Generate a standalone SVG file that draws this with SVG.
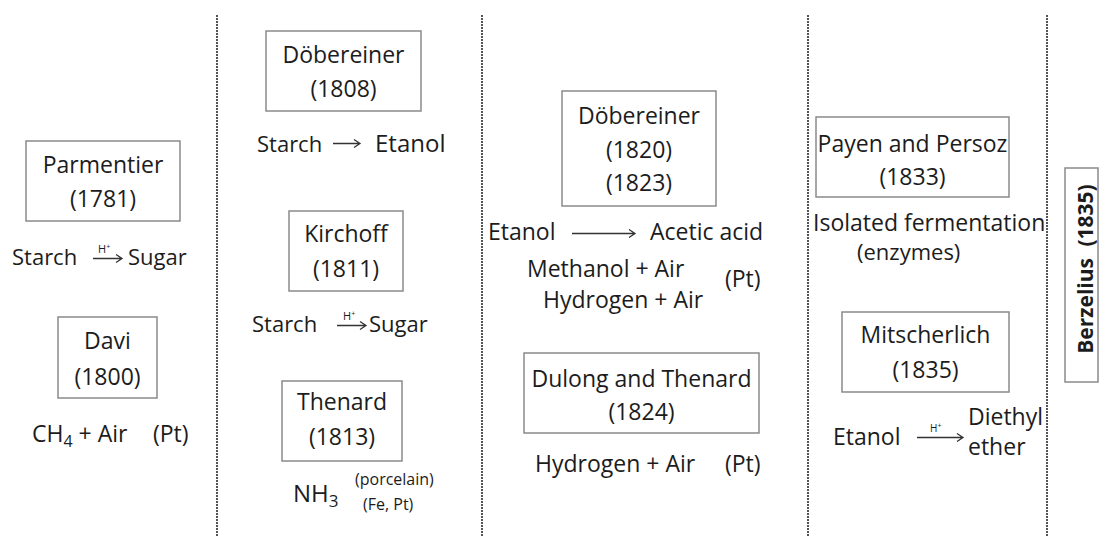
<svg xmlns="http://www.w3.org/2000/svg" width="1100" height="536" viewBox="0 0 1100 536">
<style>
text{font-family:"Open Sans","Noto Sans","Liberation Sans",sans-serif;fill:#1c1c1c}
.b{font-size:23px;text-anchor:middle}
.r{font-size:23px}
.s{font-size:16px}
.h{font-size:11px}
.box{fill:#fff;stroke:#8a8a8a;stroke-width:1.5}
.sep{stroke:#555;stroke-width:2;stroke-dasharray:2 1;fill:none}
.arr{stroke:#333;stroke-width:1.3;fill:none}
</style>
<rect width="1100" height="536" fill="#fff"/>
<g id="separators">
<line class="sep" x1="217" y1="15" x2="217" y2="536"/>
<line class="sep" x1="482" y1="15" x2="482" y2="536"/>
<line class="sep" x1="808" y1="15" x2="808" y2="536"/>
<line class="sep" x1="1047" y1="15" x2="1047" y2="536"/>
</g>
<g id="connectors">
<path class="arr" d="M93 258.5H122M116 254.5L122 258.5L116 262.5"/>
<path class="arr" d="M333 143.5H360M354 139.5L360 143.5L354 147.5"/>
<path class="arr" d="M337 325.5H366M360 321.5L366 325.5L360 329.5"/>
<path class="arr" d="M572 233.5H635M629 229.5L635 233.5L629 237.5"/>
<path class="arr" d="M917 437.5H963M957 433.5L963 437.5L957 441.5"/>
</g>
<g id="parmentier">
<rect class="box" x="26" y="141" width="154" height="80"/>
<text class="b" x="103" y="173">Parmentier</text>
<text class="b" x="103" y="207">(1781)</text>
<text class="r" x="12" y="265" style="font-size:22px">Starch</text>
<text class="h" x="98" y="253">H<tspan font-size="7" dy="-4">+</tspan></text>
<text class="r" x="128" y="265" style="font-size:22px">Sugar</text>
</g>
<g id="davi">
<rect class="box" x="58" y="317" width="99" height="81"/>
<text class="b" x="107.5" y="349">Davi</text>
<text class="b" x="107.5" y="385">(1800)</text>
<text class="r" x="32" y="442">CH<tspan font-size="16" dy="5">4</tspan><tspan dy="-5"> + Air</tspan></text>
<text class="r" x="153" y="442">(Pt)</text>
</g>
<g id="dobereiner1808">
<rect class="box" x="266" y="31" width="155" height="80"/>
<text class="b" x="343.5" y="63">Döbereiner</text>
<text class="b" x="343.5" y="97">(1808)</text>
<text class="r" x="257" y="152" style="font-size:22px">Starch</text>
<text class="r" x="375" y="152" style="font-size:24px">Etanol</text>
</g>
<g id="kirchoff">
<rect class="box" x="289" y="211" width="114" height="80"/>
<text class="b" x="346" y="242">Kirchoff</text>
<text class="b" x="346" y="277">(1811)</text>
<text class="r" x="252" y="332" style="font-size:22px">Starch</text>
<text class="h" x="343" y="320">H<tspan font-size="7" dy="-4">+</tspan></text>
<text class="r" x="369" y="332" style="font-size:22px">Sugar</text>
</g>
<g id="thenard">
<rect class="box" x="282" y="381" width="120" height="80"/>
<text class="b" x="342" y="410">Thenard</text>
<text class="b" x="342" y="445">(1813)</text>
<text class="r" x="293" y="502" style="font-size:24px">NH<tspan font-size="17" dy="5">3</tspan></text>
<text class="s" x="355" y="485">(porcelain)</text>
<text class="s" x="363" y="510">(Fe, Pt)</text>
</g>
<g id="dobereiner1820">
<rect class="box" x="562" y="91" width="154" height="115"/>
<text class="b" x="639" y="124">Döbereiner</text>
<text class="b" x="639" y="158">(1820)</text>
<text class="b" x="639" y="191">(1823)</text>
<text class="r" x="488" y="240">Etanol</text>
<text class="r" x="650" y="240">Acetic acid</text>
<text class="r" x="527" y="277">Methanol + Air</text>
<text class="r" x="725" y="287">(Pt)</text>
<text class="r" x="543" y="308">Hydrogen + Air</text>
</g>
<g id="dulong">
<rect class="box" x="524" y="353" width="235" height="80"/>
<text class="b" x="641.5" y="387">Dulong and Thenard</text>
<text class="b" x="641.5" y="420">(1824)</text>
<text class="r" x="535" y="472">Hydrogen + Air</text>
<text class="r" x="725" y="472">(Pt)</text>
</g>
<g id="payen">
<rect class="box" x="816" y="117" width="193" height="80"/>
<text class="b" x="912.5" y="152">Payen and Persoz</text>
<text class="b" x="912.5" y="185">(1833)</text>
<text class="r" x="813" y="231">Isolated fermentation</text>
<text class="r" x="857" y="260" style="font-size:22px">(enzymes)</text>
</g>
<g id="mitscherlich">
<rect class="box" x="842" y="312" width="167" height="80"/>
<text class="b" x="925.5" y="343">Mitscherlich</text>
<text class="b" x="925.5" y="378">(1835)</text>
<text class="r" x="833" y="445">Etanol</text>
<text class="h" x="930" y="432" style="font-size:10px">H<tspan font-size="7" dy="-4">+</tspan></text>
<text class="r" x="968" y="425">Diethyl</text>
<text class="r" x="968" y="455">ether</text>
</g>
<g id="berzelius">
<rect class="box" x="1065" y="168" width="33" height="214"/>
<text x="1093" y="269" transform="rotate(-90 1093 269)" style="font-size:21px;font-weight:bold;text-anchor:middle">Berzelius <tspan dx="6">(1835)</tspan></text>
</g>
</svg>
